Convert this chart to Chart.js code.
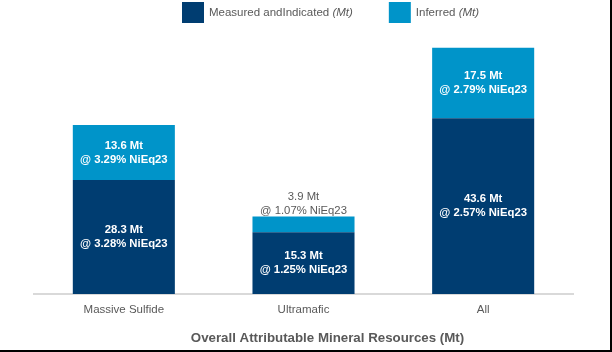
<!DOCTYPE html>
<html>
<head>
<meta charset="utf-8">
<script src="https://cdn.jsdelivr.net/npm/chart.js@4.4.1/dist/chart.umd.min.js"></script>
<style>
  html, body { margin: 0; padding: 0; background: #fff; }
  #wrap { width: 612px; height: 352px; box-sizing: border-box; border-right: 2px solid #000; border-bottom: 2px solid #000; background: #fff; }
  canvas { display: block; }
</style>
</head>
<body>
<div id="wrap"><canvas id="c" width="610" height="350"></canvas></div>
<script>
const categories = ["Massive Sulfide", "Ultramafic", "All"];
const seriesNames = ["Measured andIndicated", "Inferred"];
const measuredIndicated = [28.3, 15.3, 43.6];
const measuredGrades = ["3.28", "1.25", "2.57"];
const inferred = [13.6, 3.9, 17.5];
const inferredGrades = ["3.29", "1.07", "2.79"];
const unitLabel = "(Mt)";
const chartTitle = "Overall Attributable Mineral Resources (Mt)";

const FONT = "'Liberation Sans', Arial, sans-serif";
const GRAY = "#595959";
const DARK = "#003d71";
const LIGHT = "#0094c9";

const grades = [measuredGrades, inferredGrades];

const labelPlugin = {
  id: 'segLabels',
  afterDatasetsDraw(chart) {
    const ctx = chart.ctx;
    ctx.save();
    ctx.textAlign = 'center';
    ctx.textBaseline = 'middle';
    chart.data.datasets.forEach((ds, di) => {
      const meta = chart.getDatasetMeta(di);
      meta.data.forEach((el, i) => {
        const v = ds.data[i];
        const l1 = v.toFixed(1) + " Mt";
        const l2 = "@ " + grades[di][i] + "% NiEq23";
        const top = Math.min(el.y, el.base), base = Math.max(el.y, el.base);
        const h = base - top;
        if (h >= 30) {
          ctx.fillStyle = '#ffffff';
          ctx.font = "bold 11.3px " + FONT;
          const cy = (top + base) / 2;
          ctx.fillText(l1, el.x, cy - 7);
          ctx.fillText(l2, el.x, cy + 7);
        } else {
          ctx.fillStyle = GRAY;
          ctx.font = "11.3px " + FONT;
          ctx.fillText(l1, el.x, top - 20);
          ctx.fillText(l2, el.x, top - 6);
        }
      });
    });
    ctx.restore();
  }
};

const legendPlugin = {
  id: 'customLegend',
  afterDraw(chart) {
    const ctx = chart.ctx;
    ctx.save();
    ctx.textBaseline = 'middle';
    ctx.textAlign = 'left';
    let x = 182;
    chart.data.datasets.forEach((ds, di) => {
      ctx.fillStyle = ds.backgroundColor;
      ctx.fillRect(x, 2, 22, 21);
      x += 27;
      ctx.fillStyle = GRAY;
      ctx.font = "11.5px " + FONT;
      const t = ds.label + " ";
      ctx.fillText(t, x, 13);
      x += ctx.measureText(t).width;
      ctx.font = "italic 11.5px " + FONT;
      ctx.fillText(unitLabel, x, 13);
      x += ctx.measureText(unitLabel).width + 36;
    });
    ctx.restore();
  }
};

const titlePlugin = {
  id: 'bottomTitle',
  afterDraw(chart) {
    const ctx = chart.ctx;
    ctx.save();
    ctx.textAlign = 'center';
    ctx.textBaseline = 'middle';
    ctx.fillStyle = GRAY;
    ctx.font = "bold 13.3px " + FONT;
    ctx.fillText(chartTitle, 327.5, 338);
    ctx.restore();
  }
};

new Chart(document.getElementById('c'), {
  type: 'bar',
  data: {
    labels: categories,
    datasets: [
      { label: seriesNames[0], data: measuredIndicated, backgroundColor: DARK, borderWidth: 0 },
      { label: seriesNames[1], data: inferred, backgroundColor: LIGHT, borderWidth: 0 }
    ]
  },
  options: {
    responsive: false,
    animation: false,
    layout: { padding: { left: 34, right: 37, top: 32, bottom: 0 } },
    datasets: { bar: { categoryPercentage: 1.0, barPercentage: 0.568 } },
    plugins: { legend: { display: false }, title: { display: false }, tooltip: { enabled: false } },
    scales: {
      x: {
        stacked: true,
        grid: { display: false, drawTicks: false },
        border: { display: true, color: '#d9d9d9', width: 2 },
        ticks: { color: GRAY, font: { family: FONT, size: 11.5 }, padding: 9 },
        afterFit(scale) { scale.height = 56; }
      },
      y: {
        stacked: true,
        display: false,
        min: 0,
        max: 65
      }
    }
  },
  plugins: [labelPlugin, legendPlugin, titlePlugin]
});
</script>
</body>
</html>
